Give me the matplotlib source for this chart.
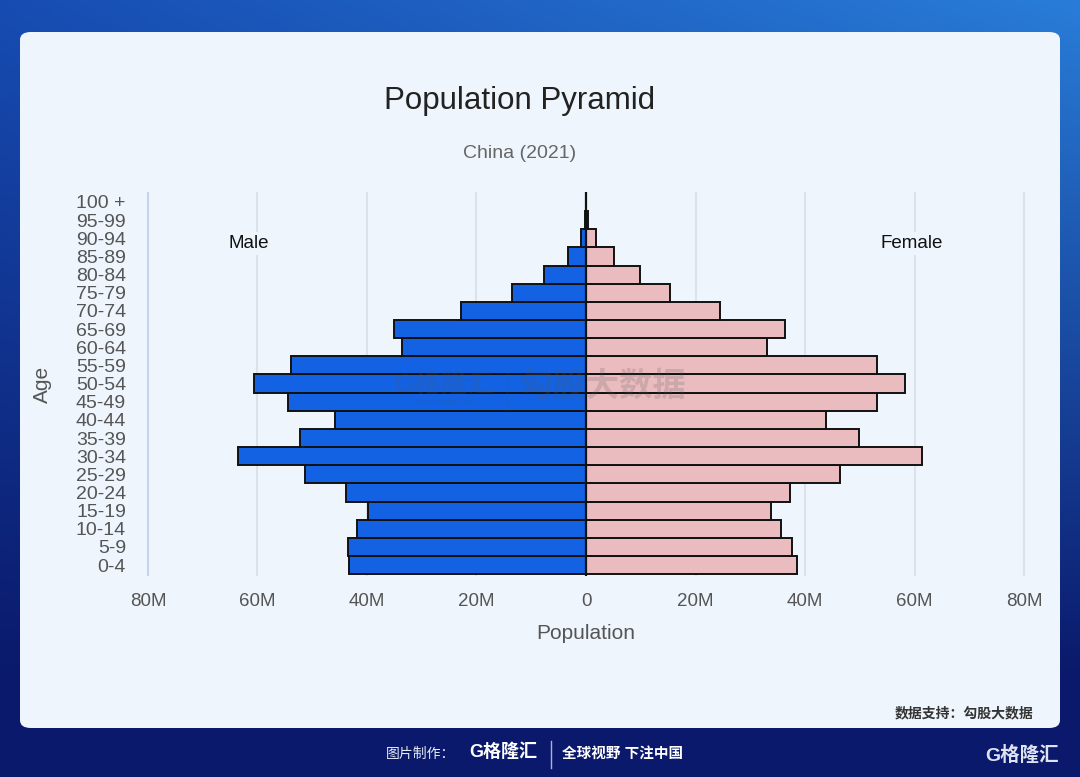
import numpy as np
import matplotlib
matplotlib.use("Agg")
import matplotlib.pyplot as plt
from matplotlib.patches import FancyBboxPatch
from matplotlib.lines import Line2D

plt.rcParams['font.family'] = ['Liberation Sans', 'Noto Sans CJK SC', 'DejaVu Sans']

# ---- data (millions) ----
age_groups = ["0-4", "5-9", "10-14", "15-19", "20-24", "25-29", "30-34", "35-39",
              "40-44", "45-49", "50-54", "55-59", "60-64", "65-69", "70-74",
              "75-79", "80-84", "85-89", "90-94", "95-99", "100 +"]
male = [43.3, 43.5, 41.8, 39.9, 43.8, 51.3, 63.6, 52.2, 45.8, 54.5, 60.6, 53.8,
        33.6, 35.1, 22.9, 13.5, 7.6, 3.3, 0.9, 0.2, 0.03]
female = [38.5, 37.7, 35.6, 33.8, 37.3, 46.3, 61.4, 49.9, 43.8, 53.1, 58.3, 53.1,
          33.1, 36.4, 24.4, 15.3, 9.8, 5.1, 1.8, 0.35, 0.05]
xticks = [-80, -60, -40, -20, 0, 20, 40, 60, 80]
xticklabels = ["80M", "60M", "40M", "20M", "0", "20M", "40M", "60M", "80M"]

W, H = 1080, 777
fig = plt.figure(figsize=(W / 100, H / 100), dpi=100)

# background gradient
bg = fig.add_axes([0, 0, 1, 1], zorder=-10)
yy, xx = np.mgrid[0:1:200j, 0:1:300j]
top_l = np.array([0.09, 0.30, 0.70])
top_r = np.array([0.16, 0.49, 0.85])
bot = np.array([0.04, 0.10, 0.42])
t = np.clip(yy * 1.15, 0, 1)[..., None]
top = top_l + (top_r - top_l) * xx[..., None]
img = top * (1 - t) + bot * t
img = np.clip(img, 0, 1)
bg.imshow(img, extent=[0, 1, 0, 1], aspect='auto', origin='upper')
bg.set_xlim(0, 1); bg.set_ylim(0, 1)
bg.axis('off')

panel_c = '#eef5fd'
panel = FancyBboxPatch((20 / W, 1 - 728 / H), 1040 / W, (728 - 32) / H,
                       boxstyle="round,pad=0,rounding_size=0.01",
                       transform=fig.transFigure, facecolor=panel_c,
                       edgecolor='none', zorder=-5)
fig.patches.append(panel)

# main axes
ax = fig.add_axes([137 / W, 1 - 576 / H, 898 / W, 384 / H])
ax.set_facecolor('none')
y = np.arange(len(age_groups))
ax.barh(y, [-m for m in male], height=1.0, color='#1262e3', edgecolor='#111111',
        linewidth=1.4, zorder=3)
ax.barh(y, female, height=1.0, color='#ebbcbf', edgecolor='#111111',
        linewidth=1.4, zorder=3)
ax.set_xlim(-82, 82)
ax.set_ylim(-0.6, len(age_groups) - 0.45)
for xv in xticks:
    col = '#c6d4e8' if xv == -80 else '#dde2ea'
    ax.axvline(xv, color=col, lw=1.5, zorder=1)
ax.axvline(0, color='#111111', lw=1.6, zorder=4)

ax.set_xticks(xticks)
ax.set_xticklabels(xticklabels, fontsize=13.5, color='#555555')
ax.set_yticks(y)
ax.set_yticklabels(age_groups, fontsize=14, color='#555555')
ax.tick_params(length=0)
ax.tick_params(axis='y', pad=8)
ax.tick_params(axis='x', pad=12)
for s in ax.spines.values():
    s.set_visible(False)

ax.set_xlabel("Population", fontsize=15, color='#555555', labelpad=10)
ax.set_ylabel("Age", fontsize=15, color='#555555', labelpad=17)

ax.text(-61.5, 17.7, "Male", fontsize=13.5, color='#111111', ha='center', va='center',
        zorder=5, bbox=dict(facecolor=panel_c, edgecolor='none', pad=2))
ax.text(59.5, 17.7, "Female", fontsize=13.5, color='#111111', ha='center', va='center',
        zorder=5, bbox=dict(facecolor=panel_c, edgecolor='none', pad=2))

# titles
fig.text(520 / W, 1 - 101 / H, "Population Pyramid", fontsize=22.5, color='#222222',
         ha='center', va='center')
fig.text(520 / W, 1 - 153 / H, "China (2021)", fontsize=14, color='#666666',
         ha='center', va='center')

# watermark
fig.text(445 / W, 1 - 385 / H, "G格隆汇", fontsize=19, fontweight='bold',
         color='#555555', alpha=0.18, ha='center', va='center', zorder=20)
fig.text(445 / W, 1 - 402 / H, "www.gelonghui.com", fontsize=5, color='#555555',
         alpha=0.18, ha='center', va='center', zorder=20)
fig.add_artist(Line2D([507 / W, 507 / W], [1 - 370 / H, 1 - 410 / H],
                      transform=fig.transFigure, color='#555555', alpha=0.18, lw=1, zorder=20))
fig.text(603 / W, 1 - 387 / H, "勾股大数据", fontsize=24, fontweight='bold',
         color='#555555', alpha=0.2, ha='center', va='center', zorder=20)

# footer texts
fig.text(1033 / W, 1 - 713 / H, "数据支持：勾股大数据", fontsize=10, fontweight='bold',
         color='#333333', ha='right', va='center')
fig.text(455 / W, 1 - 754 / H, "图片制作：", fontsize=10, color='#e8ecf5',
         ha='right', va='center')
fig.text(503 / W, 1 - 752 / H, "G格隆汇", fontsize=13, fontweight='bold', color='white',
         ha='center', va='center')
fig.add_artist(Line2D([551 / W, 551 / W], [1 - 741 / H, 1 - 768 / H],
                      transform=fig.transFigure, color='#aab4d0', lw=1))
fig.text(562 / W, 1 - 754 / H, "全球视野 下注中国", fontsize=10.5, fontweight='bold',
         color='white', ha='left', va='center')
fig.text(1022 / W, 1 - 755 / H, "G格隆汇", fontsize=14, fontweight='bold',
         color='#dde3f0', ha='center', va='center')

fig.savefig("out.png", dpi=100)
